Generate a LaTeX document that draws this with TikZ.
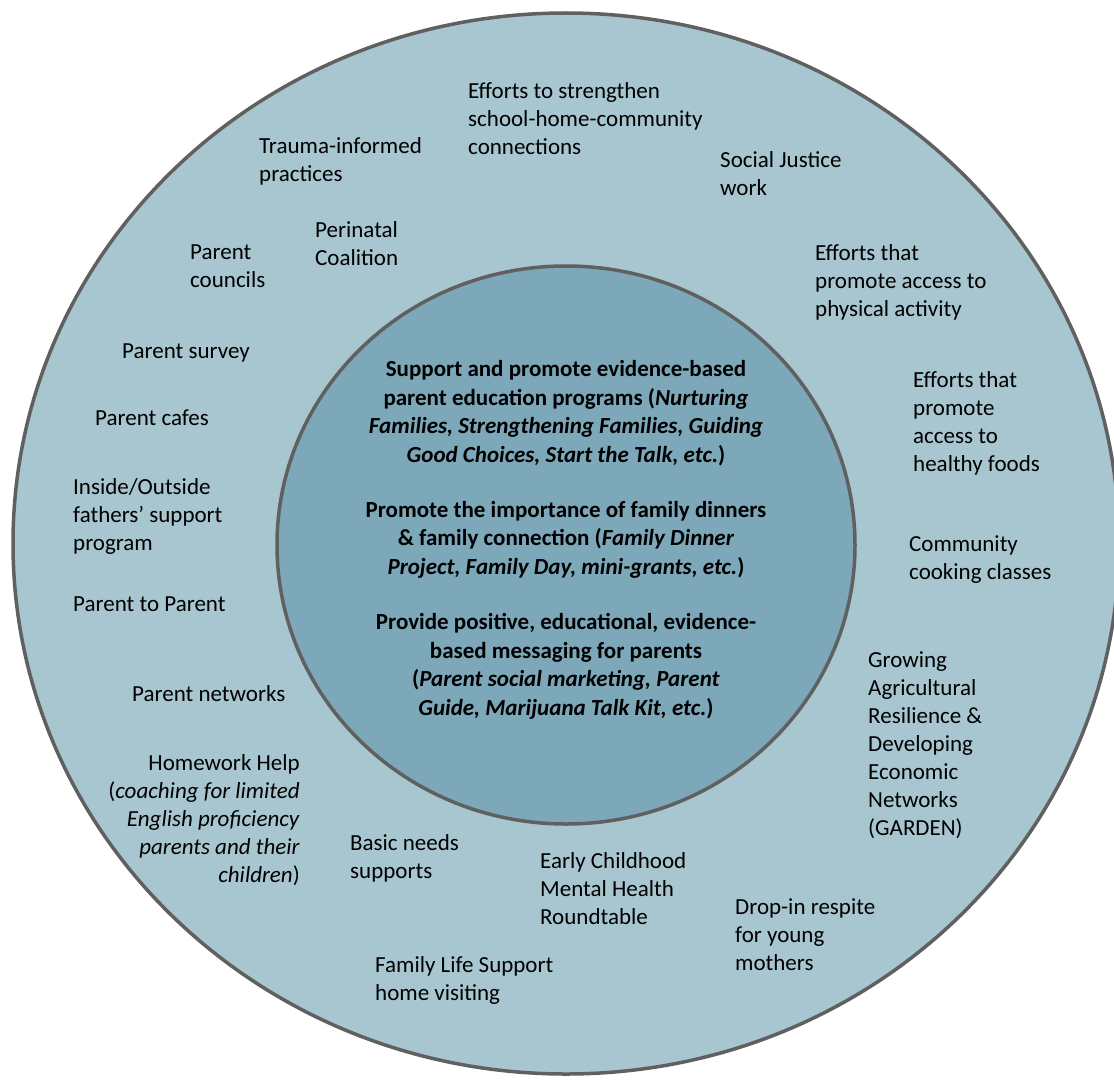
\documentclass[tikz,border=0pt]{standalone}
\usepackage{fontspec}
\setmainfont{Carlito}
\definecolor{ringblue}{HTML}{A7C6D0}
\definecolor{coreblue}{HTML}{7CA8BA}
\definecolor{rimgray}{HTML}{606060}
\tikzset{
  outtext/.style={anchor=west,align=left,inner sep=0pt,font=\fontsize{23}{28}\selectfont},
  intext/.style={align=center,inner sep=0pt,font=\fontsize{23}{28.5}\selectfont\bfseries}
}
\begin{document}
\begin{tikzpicture}[x=1pt,y=-1pt]
        \useasboundingbox (0,0) rectangle (1114,1081);
        % draw the two rings
        \draw[rimgray,line width=3.5pt,fill=ringblue] (566,543.5) ellipse [x radius=553pt,y radius=530.5pt];
        \draw[rimgray,line width=3.5pt,fill=coreblue] (566,545) ellipse [x radius=289pt,y radius=279pt];
        % inner circle
        \node[intext] (programs) at (566,413) {Support and promote evidence-based\\parent education programs (\textit{Nurturing}\\\textit{Families, Strengthening Families, Guiding}\\\textit{Good Choices, Start the Talk, etc.})};
        \node[intext] (dinners) at (566,539.5) {Promote the importance of family dinners\\\& family connection (\textit{Family Dinner}\\\textit{Project, Family Day, mini-grants, etc.})};
        \node[intext] (messaging) at (566,666.5) {Provide positive, educational, evidence-\\based messaging for parents\\(\textit{Parent social marketing, Parent}\\\textit{Guide, Marijuana Talk Kit, etc.})};
        % outer ring
        \node[outtext] (strengthen) at (468,118.5) {Efforts to strengthen\\school-home-community\\connections};
        \node[outtext] (trauma) at (259,161.5) {Trauma-informed\\practices};
        \node[outtext] (perinatal) at (315,244) {Perinatal\\Coalition};
        \node[outtext] (councils) at (190,266) {Parent\\councils};
        \node[outtext] (survey) at (122,353) {Parent survey};
        \node[outtext] (cafes) at (95,418) {Parent cafes};
        \node[outtext] (fathers) at (73,516.5) {Inside/Outside\\fathers' support\\program};
        \node[outtext] (ptop) at (73,604) {Parent to Parent};
        \node[outtext] (networks) at (132,694) {Parent networks};
        \node[outtext,anchor=east,align=right] (homework) at (300,820) {Homework Help\\(\textit{coaching for limited}\\\textit{English proficiency}\\\textit{parents and their}\\\textit{children})};
        \node[outtext] (basic) at (350,858) {Basic needs\\supports};
        \node[outtext] (childhood) at (540,889) {Early Childhood\\Mental Health\\Roundtable};
        \node[outtext] (lifesupport) at (375,980) {Family Life Support\\home visiting};
        \node[outtext] (respite) at (735,934.5) {Drop-in respite\\for young\\mothers};
        \node[outtext] (garden) at (868,745) {Growing\\Agricultural\\Resilience \&\\Developing\\Economic\\Networks\\(GARDEN)};
        \node[outtext] (cooking) at (909,559.5) {Community\\cooking classes};
        \node[outtext] (foods) at (913,423) {Efforts that\\promote\\access to\\healthy foods};
        \node[outtext] (activity) at (815,282) {Efforts that\\promote access to\\physical activity};
        \node[outtext] (justice) at (720,173.5) {Social Justice\\work};
\end{tikzpicture}
\end{document}
